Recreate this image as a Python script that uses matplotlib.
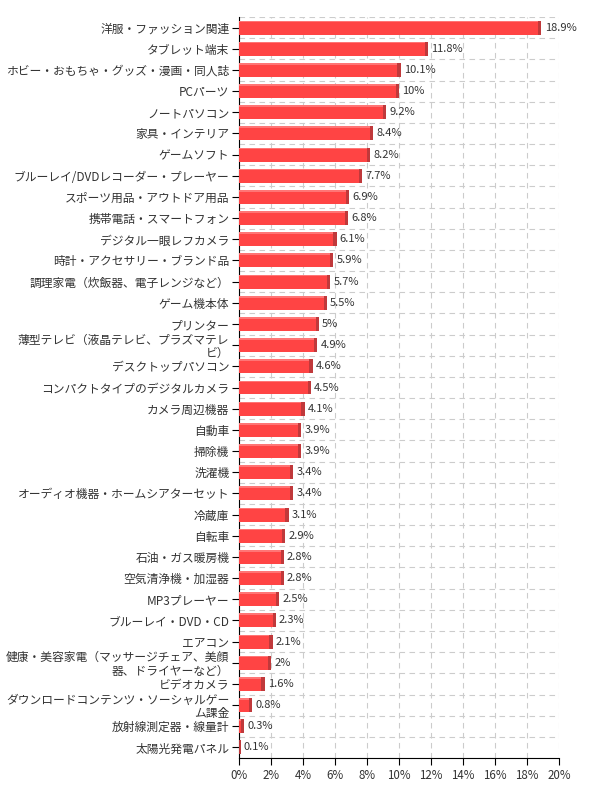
import matplotlib.pyplot as plt
import numpy as np

plt.rcParams['font.family'] = ['Noto Sans CJK JP', 'DejaVu Sans']

# Data (share, %)
categories = [
    '洋服・ファッション関連', 'タブレット端末', 'ホビー・おもちゃ・グッズ・漫画・同人誌',
    'PCパーツ', 'ノートパソコン', '家具・インテリア', 'ゲームソフト',
    'ブルーレイ/DVDレコーダー・プレーヤー', 'スポーツ用品・アウトドア用品',
    '携帯電話・スマートフォン', 'デジタル一眼レフカメラ', '時計・アクセサリー・ブランド品',
    '調理家電（炊飯器、電子レンジなど）', 'ゲーム機本体', 'プリンター',
    '薄型テレビ（液晶テレビ、プラズマテレ\nビ）', 'デスクトップパソコン',
    'コンパクトタイプのデジタルカメラ', 'カメラ周辺機器', '自動車', '掃除機', '洗濯機',
    'オーディオ機器・ホームシアターセット', '冷蔵庫', '自転車', '石油・ガス暖房機',
    '空気清浄機・加湿器', 'MP3プレーヤー', 'ブルーレイ・DVD・CD', 'エアコン',
    '健康・美容家電（マッサージチェア、美顔\n器、ドライヤーなど）', 'ビデオカメラ',
    'ダウンロードコンテンツ・ソーシャルゲー\nム課金', '放射線測定器・線量計', '太陽光発電パネル',
]
values = [18.9, 11.8, 10.1, 10, 9.2, 8.4, 8.2, 7.7, 6.9, 6.8, 6.1, 5.9, 5.7, 5.5, 5,
          4.9, 4.6, 4.5, 4.1, 3.9, 3.9, 3.4, 3.4, 3.1, 2.9, 2.8, 2.8, 2.5, 2.3, 2.1,
          2, 1.6, 0.8, 0.3, 0.1]
xticks = [0, 2, 4, 6, 8, 10, 12, 14, 16, 18, 20]

fig = plt.figure(figsize=(5.98, 7.98), dpi=100)
ax = fig.add_axes([0.3997, 0.0501, 0.5351, 0.9286])

n = len(categories)
y = np.arange(n)
h = 0.66
side = 0.2  # width of the darker right face, in %

vals = np.array(values)
# main face
ax.barh(y, vals, height=h, color='#ff4444', zorder=3)
# lighter top edge
ax.barh(y - h / 2 + 0.04, vals, height=0.08, color='#ff7575', zorder=4)
# darker right face
ax.barh(y, np.minimum(side, vals), left=vals - np.minimum(side, vals), height=h,
        color='#c0393b', zorder=4)

for yi, v in zip(y, values):
    ax.text(v + 0.2, yi, f'{v:g}%', va='center', ha='left', fontsize=8, color='#333333')

ax.set_xlim(0, 20)
ax.set_ylim(n - 0.5, -0.5)
ax.set_xticks(xticks)
ax.set_xticklabels([f'{t}%' for t in xticks])
ax.set_yticks(y)
ax.set_yticklabels(categories, fontsize=8.5, color='#333333', multialignment='right',
                   linespacing=1.05)
ax.set_yticks(np.arange(n + 1) - 0.5, minor=True)
ax.tick_params(axis='y', which='minor', length=0)
ax.tick_params(axis='y', which='major', length=5, pad=2)
ax.tick_params(axis='x', length=5, labelsize=8.3, labelcolor='#333333', pad=3)

ax.grid(True, axis='x', which='major', linestyle=(0, (5, 4)), color='#cccccc', linewidth=0.8, zorder=0)
ax.grid(True, axis='y', which='minor', linestyle=(0, (5, 4)), color='#cccccc', linewidth=0.8, zorder=0)

for s in ['top', 'right']:
    ax.spines[s].set_visible(False)
for s in ['left', 'bottom']:
    ax.spines[s].set_color('black')

fig.savefig('out.png', dpi=100)
